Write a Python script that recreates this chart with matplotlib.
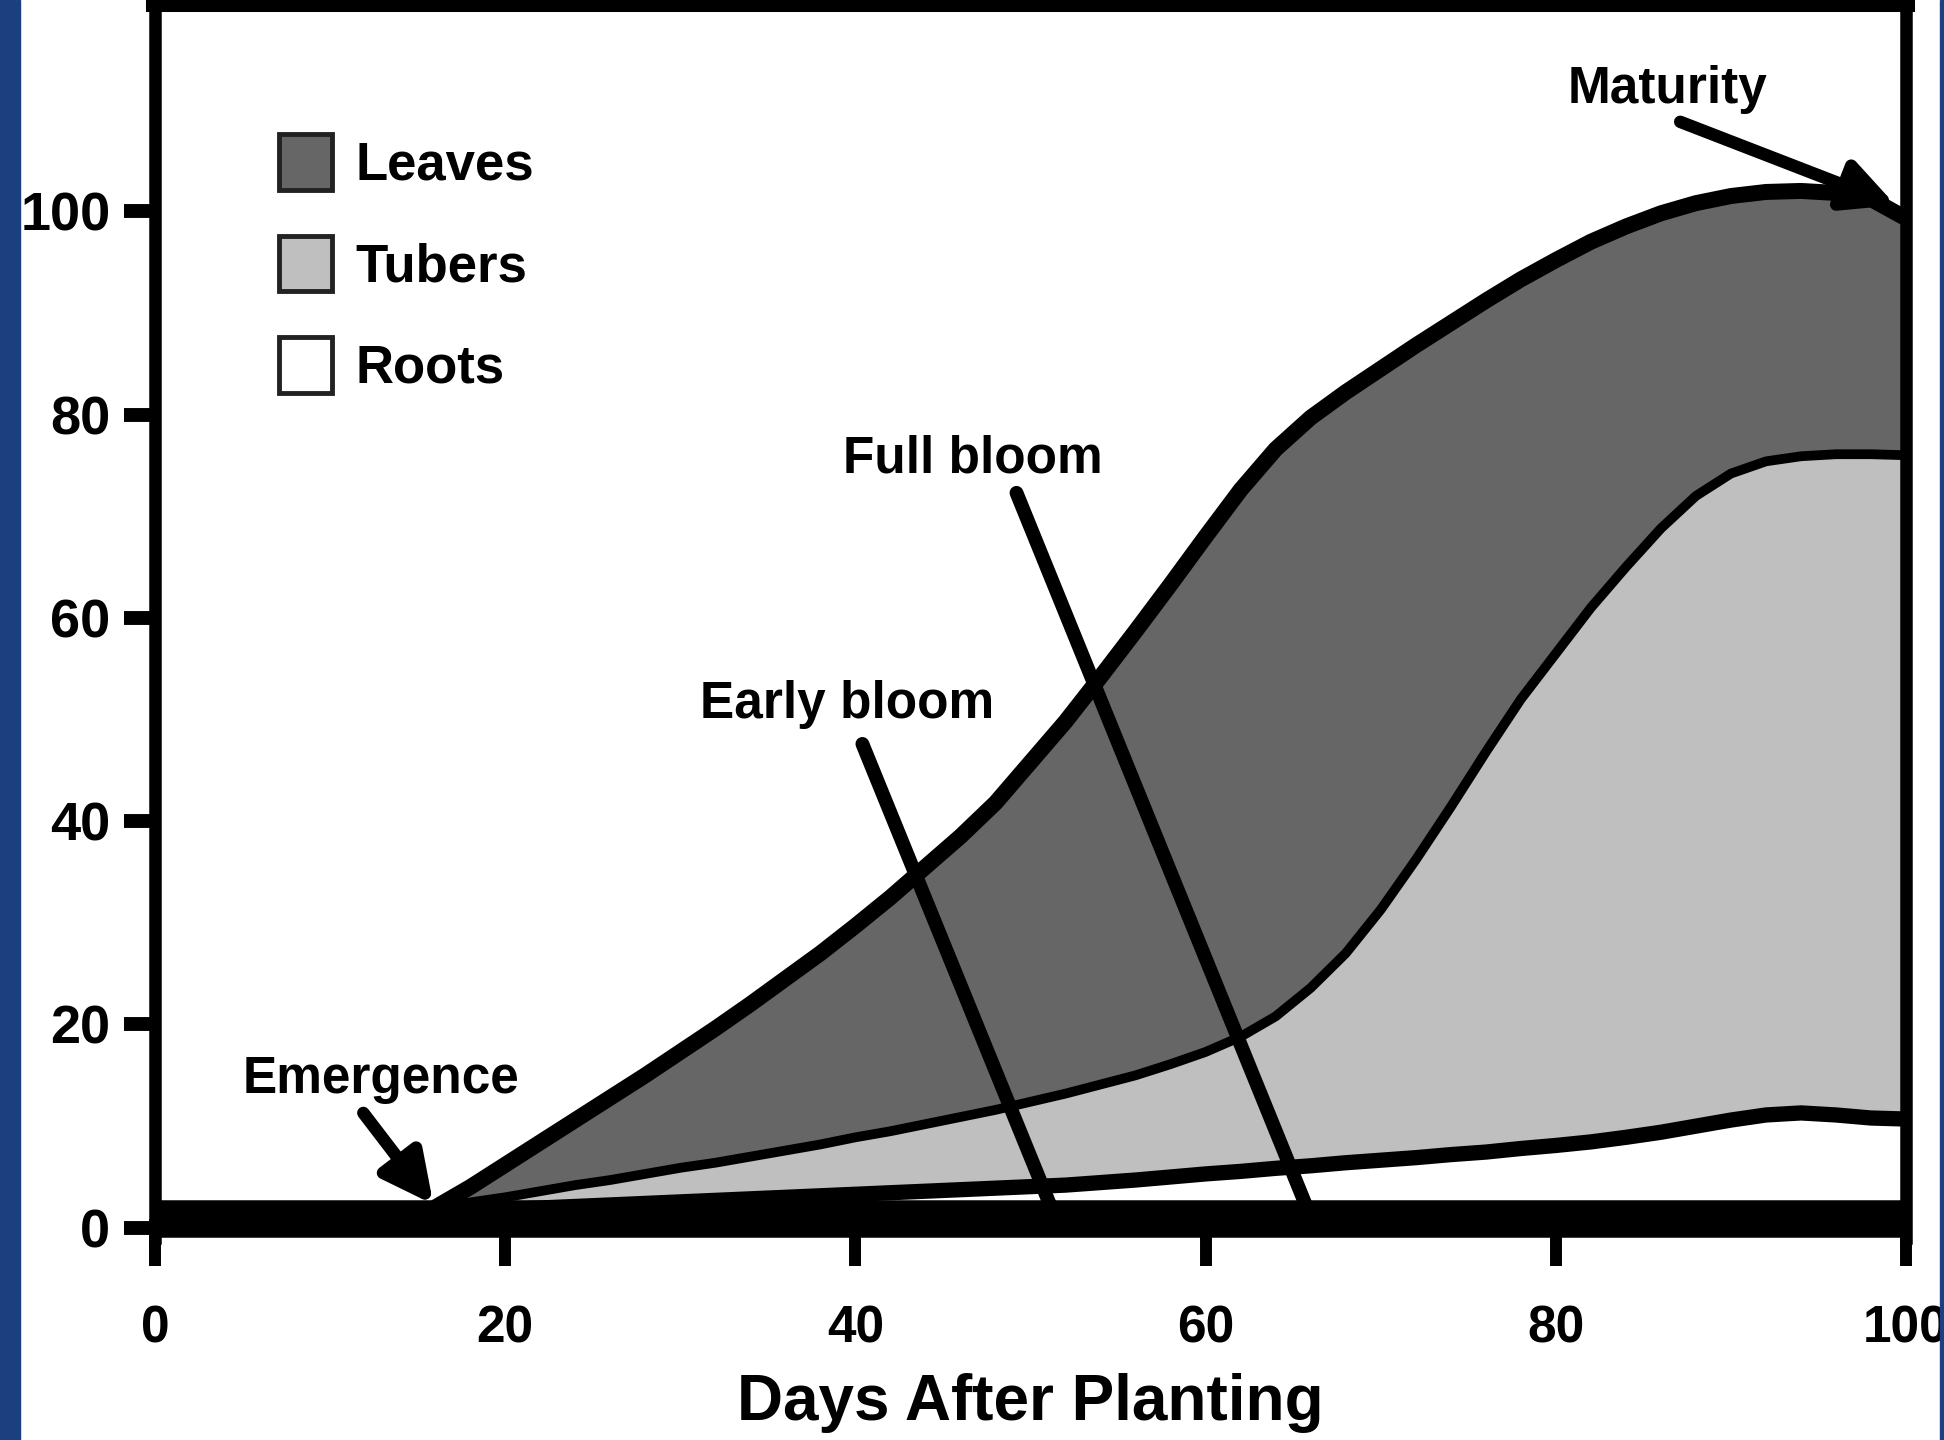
import matplotlib
matplotlib.use("Agg")
import matplotlib.pyplot as plt
from matplotlib.patches import Patch, Rectangle

# values (percent of final dry matter)
days = list(range(16, 101, 2))
total_top = [2, 4, 6.2, 8.4, 10.6, 12.8, 15, 17.3, 19.6, 22, 24.5, 27, 29.7, 32.5, 35.5, 38.5, 41.8, 45.8,
             49.8, 54.2, 58.7, 63.3, 68, 72.6, 76.6, 79.7, 82.2, 84.5, 86.8, 89, 91.2, 93.3, 95.2, 97,
             98.5, 99.8, 100.8, 101.5, 101.9, 102, 101.8, 101.2, 99.3]
tubers_top = [2, 2.5, 3, 3.6, 4.2, 4.7, 5.3, 5.9, 6.4, 7, 7.6, 8.2, 8.9, 9.5, 10.2, 10.9, 11.6, 12.4,
              13.2, 14.1, 15, 16.1, 17.3, 18.8, 20.8, 23.6, 27, 31.3, 36.2, 41.4, 46.8, 52, 56.5, 61,
              65, 68.8, 72, 74.2, 75.4, 75.9, 76.1, 76.1, 76]
roots_top = [1.5, 1.65, 1.8, 1.95, 2.1, 2.25, 2.4, 2.55, 2.7, 2.85, 3, 3.15, 3.3, 3.45, 3.6, 3.75, 3.9, 4.05,
             4.2, 4.45, 4.7, 5, 5.3, 5.55, 5.85, 6.1, 6.4, 6.65, 6.9, 7.2, 7.45, 7.8, 8.1, 8.45,
             8.9, 9.4, 10, 10.6, 11.1, 11.3, 11.1, 10.8, 10.7]

organ_names = ["Leaves", "Tubers", "Roots"]
organ_colors = ["#666666", "#bfbfbf", "#ffffff"]

x_ticks = [0, 20, 40, 60, 80, 100]
y_ticks = [0, 20, 40, 60, 80, 100]

roots = roots_top
tubers = [t - r for t, r in zip(tubers_top, roots_top)]
leaves = [a - t for a, t in zip(total_top, tubers_top)]

plt.rcParams["font.family"] = ["Liberation Sans", "DejaVu Sans"]

fig = plt.figure(figsize=(19.44, 14.4), dpi=100)
ax = fig.add_axes([0.0797, 0.1403, 0.9008, 0.8577])

ax.stackplot(days, roots, tubers, leaves,
             colors=[organ_colors[2], organ_colors[1], organ_colors[0]], lw=0, zorder=1)
line_kw = dict(color="black", solid_capstyle="butt", solid_joinstyle="round", zorder=3)
ax.plot(days, total_top, lw=11.5, **line_kw)
ax.plot(days, tubers_top, lw=7, **line_kw)
ax.plot(days, roots_top, lw=11, **line_kw)

ax.set_xlim(0, 100)
ax.set_ylim(-1, 120.5)
ax.set_xticks(x_ticks)
ax.set_yticks(y_ticks)

for side in ["left", "right"]:
    ax.spines[side].set_linewidth(9)
ax.spines["top"].set_linewidth(13)
ax.spines["bottom"].set_position(("data", 0.9))
ax.spines["bottom"].set_linewidth(27)
ax.spines["bottom"].set_capstyle("butt")
ax.spines["bottom"].set_zorder(4)

ax.tick_params(axis="x", direction="out", length=34, width=8.6, pad=28, labelsize=37)
ax.tick_params(axis="y", direction="out", length=22, width=10, pad=10, labelsize=39)
for lab in ax.get_xticklabels() + ax.get_yticklabels():
    lab.set_fontweight("bold")

ax.set_xlabel("Days After Planting", fontsize=46, fontweight="bold", labelpad=14)

# growth stage markers
ann_font = dict(fontsize=37, fontweight="bold", ha="center", va="baseline", zorder=6)
ax.text(12.9, 13.3, "Emergence", **ann_font)
ax.text(39.5, 50.2, "Early bloom", **ann_font)
ax.text(46.7, 74.3, "Full bloom", **ann_font)
ax.text(86.4, 110.7, "Maturity", **ann_font)

head = dict(arrowstyle="-|>,head_length=1.5,head_width=0.75", color="black", lw=9,
            mutation_scale=20, shrinkA=0, shrinkB=0)
bar = dict(arrowstyle="-", color="black", lw=10, shrinkA=0, shrinkB=0)
ax.annotate("", xy=(15.9, 2.3), xytext=(11.9, 11.3), arrowprops=head, zorder=6)
ax.annotate("", xy=(99.4, 100.6), xytext=(87.1, 108.8), arrowprops=head, zorder=6)
ax.annotate("", xy=(51.2, 1.9), xytext=(40.4, 47.6), arrowprops=bar, zorder=6)
ax.annotate("", xy=(65.8, 1.9), xytext=(49.2, 72.3), arrowprops=bar, zorder=6)

handles = [Patch(facecolor=c, edgecolor="#222222", lw=3.5) for c in organ_colors]
leg = ax.legend(handles, organ_names, loc="upper left", bbox_to_anchor=(0.0708, 0.8938),
                frameon=False, borderpad=0, borderaxespad=0, handlelength=1.0, handleheight=1.25,
                handletextpad=0.45, labelspacing=0.85, prop=dict(size=38, weight="bold"))

# blue page border
fig.add_artist(Rectangle((0, 0), 20 / 1944, 1, transform=fig.transFigure, color="#1c3f80", zorder=10))
fig.add_artist(Rectangle((1940 / 1944, 0), 4 / 1944, 1, transform=fig.transFigure, color="#1c3f80", zorder=10))

fig.savefig("out.png", dpi=100)
